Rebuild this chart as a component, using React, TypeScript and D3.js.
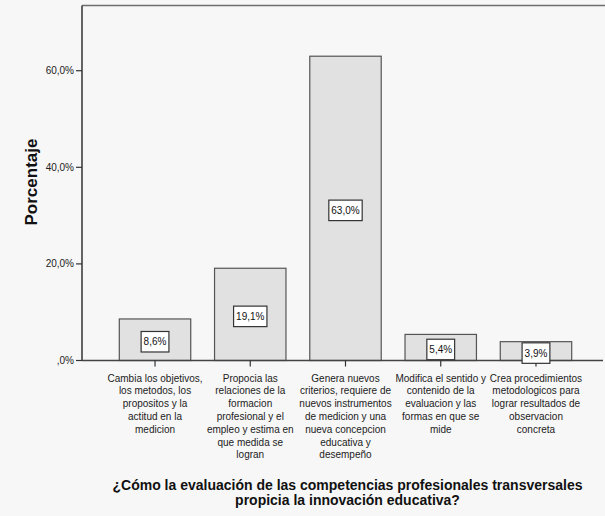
import React from "react";
import * as d3 from "d3";

const categories: string[][] = [
  ["Cambia los objetivos,", "los metodos, los", "propositos y la", "actitud en la", "medicion"],
  ["Propocia las", "relaciones de la", "formacion", "profesional y el", "empleo y estima en", "que medida se", "logran"],
  ["Genera nuevos", "criterios, requiere de", "nuevos instrumentos", "de medicion y una", "nueva concepcion", "educativa y", "desempeño"],
  ["Modifica el sentido y", "contenido de la", "evaluacion y las", "formas en que se", "mide"],
  ["Crea procedimientos", "metodologicos para", "lograr resultados de", "observacion", "concreta"],
];
const values: number[] = [8.6, 19.1, 63.0, 5.4, 3.9];
const yTicks: number[] = [0, 20, 40, 60];
const yLabel = "Porcentaje";
const titleLines: string[] = [
  "¿Cómo la evaluación de las competencias profesionales transversales",
  "propicia la innovación educativa?",
];

const W = 605;
const H = 516;
const FONT = "'Liberation Sans', Arial, sans-serif";

const fmt = (v: number) => (v === 0 ? ",0%" : v.toFixed(1).replace(".", ",") + "%");

function measure(text: string, font: string): number {
  const c = document.createElement("canvas");
  const ctx = c.getContext("2d")!;
  ctx.font = font;
  return ctx.measureText(text).width;
}

export default function App() {
  const axisX = 82;
  const x = d3
    .scaleBand<number>()
    .domain(values.map((_, i) => i))
    .range([107.4, 583.6])
    .paddingInner(0.25)
    .paddingOuter(0.125);
  const y = d3.scaleLinear().domain([0, 73.5]).range([360.5, 5.5]);
  const bw = x.bandwidth();

  return (
    <svg
      width={W}
      height={H}
      style={{ position: "absolute", left: 0, top: 0, display: "block" }}
      fontFamily={FONT}
    >
      <rect x={0} y={0} width={W} height={H} fill="#f7f7f7" />
      {/* top frame */}
      <line x1={axisX} x2={W} y1={y(73.5)} y2={y(73.5)} stroke="#6e6e6e" strokeWidth={1.5} />
      {/* bars */}
      {values.map((v, i) => (
        <rect
          key={"b" + i}
          x={x(i)!}
          y={y(v)}
          width={bw}
          height={y(0) - y(v)}
          fill="#e1e1e1"
          stroke="#555"
          strokeWidth={1.2}
        />
      ))}
      {/* y axis */}
      <line x1={axisX} x2={axisX} y1={y(73.5)} y2={y(0) + 0.5} stroke="#333" strokeWidth={1.5} />
      {yTicks.map((t) => (
        <g key={"t" + t}>
          <line x1={axisX - 6} x2={axisX} y1={y(t)} y2={y(t)} stroke="#333" strokeWidth={1.2} />
          <text x={axisX - 8} y={y(t)} dy="0.35em" textAnchor="end" fontSize={10} fill="#222">
            {fmt(t)}
          </text>
        </g>
      ))}
      {/* x axis */}
      <line x1={axisX} x2={603} y1={y(0)} y2={y(0)} stroke="#444" strokeWidth={1.5} />
      {values.map((_, i) => {
        const cx = x(i)! + bw / 2;
        return (
          <line key={"xt" + i} x1={cx} x2={cx} y1={y(0)} y2={y(0) + 6} stroke="#333" strokeWidth={1.2} />
        );
      })}
      {/* value labels */}
      {values.map((v, i) => {
        const cx = x(i)! + bw / 2;
        const cy = (y(v) + y(0)) / 2 + 2;
        const label = fmt(v);
        const tw = measure(label, `10px ${FONT}`);
        const bwid = tw + 5;
        const bh = 20.5;
        return (
          <g key={"l" + i}>
            <rect x={cx - bwid / 2} y={cy - bh / 2} width={bwid} height={bh} fill="#fff" stroke="#333" strokeWidth={1.2} />
            <text x={cx} y={cy} dy="0.35em" textAnchor="middle" fontSize={10} fill="#111">
              {label}
            </text>
          </g>
        );
      })}
      {/* category labels */}
      {categories.map((lines, i) => {
        const cx = x(i)! + bw / 2;
        return (
          <text key={"c" + i} x={cx} textAnchor="middle" fontSize={10} fill="#222">
            {lines.map((ln, j) => (
              <tspan key={j} x={cx} y={381.5 + j * 12.8}>
                {ln}
              </tspan>
            ))}
          </text>
        );
      })}
      {/* y label */}
      <text
        transform={`translate(37, ${182}) rotate(-90)`}
        textAnchor="middle"
        fontSize={17}
        fontWeight="bold"
        fill="#111"
      >
        {yLabel}
      </text>
      {/* title */}
      {titleLines.map((t, i) => (
        <text key={"ti" + i} x={347.5} y={490 + i * 15} textAnchor="middle" fontSize={14} fontWeight="bold" fill="#111">
          {t}
        </text>
      ))}
    </svg>
  );
}
